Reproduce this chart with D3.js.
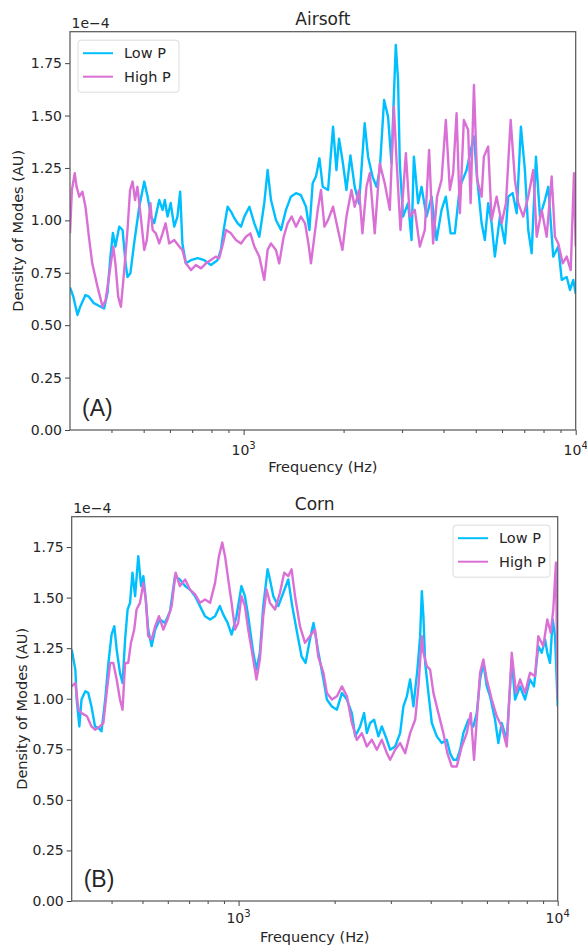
<!DOCTYPE html>
<meta charset="utf-8">
<script src="https://d3js.org/d3.v7.min.js"></script>
<style>
  body { margin: 0; background: #fff; }
  text { font-family: 'DejaVu Sans', sans-serif; fill: #262626; }
</style>
<body>
<div id="chart"></div>
<script>

// density of modes, in units of 1e-4 as [frequency Hz, value]
var airsoftLow = [[300,0.68],[307,0.636],[316,0.549],[322,0.588],[334,0.644],[342,0.636],[354,0.605],[371,0.588],
  [380,0.58],[389,0.653],[397,0.827],[404,0.94],[411,0.875],[422,0.97],[432,0.954],[441,0.795],[447,0.73],[456,0.748],
  [468,0.89],[485,1.065],[502,1.185],[514,1.113],[526,1.018],[538,0.987],[557,1.097],[570,1.05],[579,1.097],[590,1.018],
  [603,1.083],[618,0.97],[632,1.018],[644,1.137],[654,0.89],[670,0.795],[694,0.81],[727,0.82],[761,0.81],[797,0.787],
  [834,0.81],[854,0.859],[874,0.97],[895,1.065],[916,1.042],[938,1.01],[960,0.986],[982,0.97],[1005,1.018],[1041,1.065],
  [1077,0.986],[1115,0.922],[1154,1.083],[1181,1.24],[1209,1.097],[1251,1.002],[1296,0.954],[1341,1.05],[1388,1.113],
  [1438,1.13],[1488,1.12],[1541,1.065],[1578,0.954],[1614,1.177],[1652,1.21],[1692,1.296],[1731,1.16],[1796,1.145],
  [1859,1.447],[1903,1.24],[1938,1.39],[1992,1.27],[2040,1.145],[2097,1.31],[2160,1.16],[2226,1.08],[2315,1.463],
  [2370,1.304],[2443,1.21],[2513,1.16],[2570,1.24],[2648,1.574],[2722,1.495],[2788,1.272],[2834,1.59],[2872,1.837],
  [2918,1.67],[2953,1.272],[3021,1.018],[3128,1.082],[3204,0.906],[3256,1.304],[3353,1.082],[3434,1.16],[3555,1.018],
  [3681,1.113],[3810,0.906],[3945,1.05],[4064,1.113],[4200,0.938],[4325,0.938],[4479,1.16],[4693,1.24],[4858,1.352],
  [4938,1.40],[5032,1.225],[5208,0.986],[5326,0.906],[5451,1.082],[5582,0.986],[5709,0.827],[5913,1.018],[6120,0.89],
  [6263,1.113],[6458,1.13],[6642,1.034],[6840,1.447],[7031,1.24],[7196,0.954],[7369,0.843],[7592,1.304],[7805,1.018],
  [8078,1.097],[8267,1.16],[8558,0.827],[8862,0.875],[9076,0.716],[9396,0.73],[9612,0.668],[9833,0.716],[10000,0.65]];

var airsoftHigh = [[300,0.938],[304,1.145],[310,1.225],[314,1.16],[320,1.113],[327,1.137],[334,1.065],[342,0.922],
  [350,0.795],[363,0.684],[376,0.588],[384,0.62],[393,0.731],[405,0.875],[411,0.795],[419,0.636],[427,0.588],[437,0.763],
  [447,0.954],[455,1.145],[463,1.185],[471,1.097],[479,1.16],[490,1.018],[502,0.859],[511,0.906],[524,1.082],[532,0.954],
  [544,0.938],[557,0.89],[570,0.938],[582,0.986],[597,0.89],[618,0.906],[640,0.875],[654,0.859],[670,0.795],[694,0.763],
  [718,0.787],[744,0.771],[770,0.795],[797,0.811],[824,0.827],[844,0.819],[867,0.89],[885,0.954],[916,0.938],[948,0.906],
  [982,0.89],[1016,0.922],[1048,0.938],[1077,0.875],[1115,0.827],[1154,0.716],[1181,0.859],[1209,0.89],[1251,0.859],
  [1280,0.795],[1320,0.922],[1357,0.986],[1395,1.018],[1438,0.97],[1488,1.018],[1531,0.986],[1567,0.89],[1595,0.795],
  [1633,0.922],[1672,1.05],[1710,1.145],[1751,0.97],[1796,1.002],[1859,1.065],[1924,0.954],[1984,0.859],[2040,1.018],
  [2112,1.145],[2160,1.065],[2226,1.145],[2279,0.938],[2344,1.16],[2398,1.225],[2482,0.938],[2570,1.272],[2660,1.177],
  [2755,1.05],[2834,1.542],[2887,1.288],[2967,0.954],[3080,1.32],[3166,1.018],[3277,1.05],[3393,0.875],[3512,0.954],
  [3619,1.336],[3721,0.89],[3825,1.113],[3945,1.193],[4064,1.479],[4179,1.145],[4275,1.225],[4378,1.511],[4479,1.034],
  [4604,1.479],[4744,1.431],[4825,1.082],[4938,1.646],[5050,1.193],[5208,1.113],[5290,1.304],[5451,1.352],[5582,1.002],
  [5780,1.113],[5984,0.986],[6165,1.082],[6370,1.479],[6560,1.193],[6712,1.082],[6950,1.018],[7196,1.113],[7450,1.24],
  [7632,0.922],[7899,1.05],[8178,0.922],[8466,1.209],[8659,0.922],[8862,0.89],[9138,0.795],[9396,0.827],[9660,0.763],
  [9881,1.225],[10000,0.875]];

var cornLow = [[300,1.243],[308,1.144],[311,0.996],[317,0.863],[322,0.996],[331,1.037],[338,1.029],[346,0.962],
  [355,0.863],[364,0.855],[372,0.839],[382,0.996],[391,1.177],[400,1.317],[408,1.359],[415,1.243],[425,1.128],[433,1.078],
  [441,1.293],[449,1.441],[457,1.474],[465,1.623],[474,1.507],[485,1.705],[495,1.557],[503,1.606],[512,1.491],[521,1.342],
  [534,1.26],[548,1.342],[567,1.392],[588,1.375],[610,1.433],[632,1.606],[655,1.59],[680,1.557],[704,1.54],[731,1.507],
  [757,1.458],[785,1.408],[814,1.392],[844,1.408],[874,1.458],[895,1.417],[924,1.375],[951,1.317],[985,1.408],[1021,1.557],
  [1047,1.507],[1072,1.408],[1112,1.227],[1138,1.144],[1166,1.227],[1195,1.458],[1233,1.64],[1254,1.59],[1285,1.507],
  [1332,1.458],[1381,1.524],[1431,1.59],[1473,1.458],[1519,1.342],[1575,1.21],[1621,1.177],[1673,1.293],[1717,1.375],
  [1780,1.227],[1845,1.095],[1891,0.996],[1961,0.962],[2033,0.946],[2108,1.029],[2185,0.996],[2265,0.929],[2320,0.814],
  [2404,0.863],[2474,0.929],[2523,0.83],[2584,0.88],[2659,0.896],[2743,0.814],[2811,0.863],[2915,0.797],[2985,0.748],
  [3095,0.764],[3208,0.83],[3285,0.962],[3367,1.012],[3448,1.095],[3531,0.962],[3634,1.144],[3706,1.309],[3752,1.532],
  [3795,1.408],[3843,1.177],[3934,1.029],[4032,0.88],[4180,0.814],[4333,0.781],[4492,0.797],[4600,0.731],[4711,0.698],
  [4828,0.698],[4944,0.748],[5063,0.83],[5249,0.896],[5442,0.863],[5577,0.929],[5711,1.095],[5848,1.177],[5994,1.061],
  [6138,1.012],[6365,0.896],[6516,0.781],[6679,0.88],[6924,0.797],[7178,1.194],[7352,0.996],[7620,1.061],[7902,0.996],
  [8190,1.095],[8428,1.061],[8694,1.26],[8911,1.227],[9128,1.293],[9277,1.227],[9460,1.177],[9646,1.392],[9810,1.309],
  [10000,0.962]];

var cornHigh = [[300,1.061],[308,1.078],[315,0.946],[322,0.929],[335,0.913],[346,0.863],[355,0.847],[368,0.863],
  [377,0.88],[386,1.029],[396,1.177],[405,1.177],[415,1.095],[425,0.996],[433,0.946],[441,1.177],[451,1.177],[460,1.276],
  [471,1.342],[479,1.441],[491,1.474],[503,1.573],[512,1.491],[521,1.309],[534,1.293],[548,1.359],[563,1.408],[581,1.342],
  [599,1.392],[617,1.458],[635,1.623],[655,1.557],[680,1.59],[704,1.54],[731,1.516],[757,1.474],[785,1.491],[814,1.474],
  [844,1.573],[868,1.705],[889,1.772],[907,1.705],[928,1.59],[951,1.474],[975,1.342],[997,1.375],[1021,1.507],[1047,1.458],
  [1072,1.342],[1112,1.194],[1138,1.095],[1166,1.194],[1195,1.408],[1224,1.54],[1254,1.474],[1301,1.441],[1348,1.524],
  [1390,1.623],[1431,1.606],[1466,1.64],[1503,1.507],[1557,1.359],[1615,1.276],[1673,1.309],[1736,1.342],[1776,1.21],
  [1845,1.128],[1891,1.029],[1961,0.996],[2033,1.012],[2108,1.061],[2185,1.012],[2265,0.88],[2348,0.797],[2434,0.83],
  [2523,0.764],[2616,0.797],[2712,0.748],[2811,0.797],[2915,0.731],[2985,0.698],[3095,0.748],[3208,0.781],[3327,0.731],
  [3448,0.83],[3576,0.896],[3661,1.061],[3752,1.309],[3795,1.227],[3890,1.161],[3983,1.144],[4079,1.029],[4228,0.929],
  [4383,0.83],[4511,0.731],[4657,0.665],[4828,0.665],[5005,0.764],[5189,0.83],[5341,0.929],[5468,0.698],[5577,0.896],
  [5711,1.128],[5848,1.194],[5994,1.095],[6214,0.996],[6442,0.913],[6679,0.863],[6924,0.764],[7178,1.227],[7402,1.029],
  [7620,1.095],[7902,1.029],[8190,1.128],[8493,1.111],[8694,1.309],[9013,1.26],[9277,1.392],[9508,1.326],[9687,1.441],
  [9876,1.673],[10000,0.996]];

var seriesNames = ["Low P", "High P"]
var seriesColors = ["#00bfff", "#da70d6"]
var yTicks = [0, 0.25, 0.5, 0.75, 1.0, 1.25, 1.5, 1.75]
var xMajor = [1000, 10000]
var xMinor = [400, 500, 600, 700, 800, 900, 2000, 3000, 4000, 5000, 6000, 7000, 8000, 9000]

var width = 587
    height = 948

var svg = d3.select("#chart")
  .append("svg")
    .attr("width", width)
    .attr("height", height)

var panels = [
  { title: "Airsoft", tag: "(A)", low: airsoftLow, high: airsoftHigh,
    left: 70, right: 575.7, top: 31.7, bottom: 430, legend: "left", ylabX: 23, xtickDy: 25, xlabDy: 42 },
  { title: "Corn", tag: "(B)", low: cornLow, high: cornHigh,
    left: 71.7, right: 557.7, top: 516.7, bottom: 901, legend: "right", ylabX: 27, xtickDy: 22, xlabDy: 41 }
]

panels.forEach(function(p, i) {
  var x = d3.scaleLog().domain([300, 10000]).range([p.left, p.right])
  var y = d3.scaleLinear().domain([0, 1.9]).range([p.bottom, p.top])
  var g = svg.append("g")

  g.append("clipPath").attr("id", "clip" + i)
    .append("rect")
      .attr("x", p.left).attr("y", p.top)
      .attr("width", p.right - p.left).attr("height", p.bottom - p.top)

  var line = d3.line()
    .x(function(d) { return x(d[0]) })
    .y(function(d) { return y(d[1]) })

  ;[p.low, p.high].forEach(function(s, k) {
    g.append("path")
      .datum(s)
      .attr("clip-path", "url(#clip" + i + ")")
      .attr("fill", "none")
      .attr("stroke", seriesColors[k])
      .attr("stroke-width", 2.4)
      .attr("stroke-linejoin", "round")
      .attr("d", line)
  })

  // y axis
  var yAxis = g.append("g")
    .attr("transform", "translate(" + p.left + ",0)")
    .call(d3.axisLeft(y).tickValues(yTicks).tickFormat(d3.format(".2f")).tickSize(5).tickPadding(3))
  yAxis.select(".domain").remove()
  yAxis.selectAll("line").attr("stroke", "#444")
  yAxis.selectAll("text").style("font-family", "'DejaVu Sans'").style("font-size", "14px").attr("fill", "#262626")

  // x axis, major + minor ticks
  var xAxis = g.append("g")
    .attr("transform", "translate(0," + p.bottom + ")")
    .call(d3.axisBottom(x).tickValues(xMajor).tickFormat("").tickSize(5))
  xAxis.select(".domain").remove()
  xAxis.selectAll("line").attr("stroke", "#444")

  var xMinorAxis = g.append("g")
    .attr("transform", "translate(0," + p.bottom + ")")
    .call(d3.axisBottom(x).tickValues(xMinor).tickFormat("").tickSize(3))
  xMinorAxis.select(".domain").remove()
  xMinorAxis.selectAll("line").attr("stroke", "#444")

  xMajor.forEach(function(v) {
    var t = g.append("text")
      .attr("x", x(v))
      .attr("y", p.bottom + p.xtickDy)
      .attr("text-anchor", "middle")
      .style("font-size", "14px")
    t.append("tspan").text("10")
    t.append("tspan").attr("dy", -6).style("font-size", "10px").text(Math.round(Math.log10(v)))
  })

  // frame
  g.append("rect")
    .attr("x", p.left).attr("y", p.top)
    .attr("width", p.right - p.left).attr("height", p.bottom - p.top)
    .attr("fill", "none")
    .attr("stroke", "#555")
    .attr("stroke-width", 1.2)

  g.append("text")
    .attr("x", (p.left + p.right) / 2)
    .attr("y", p.top - 7)
    .attr("text-anchor", "middle")
    .style("font-size", "17px")
    .text(p.title)

  g.append("text")
    .attr("x", p.left + 1.5)
    .attr("y", p.top - 3.5)
    .style("font-size", "14px")
    .text("1e\u22124")

  g.append("text")
    .attr("x", (p.left + p.right) / 2)
    .attr("y", p.bottom + p.xlabDy)
    .attr("text-anchor", "middle")
    .style("font-size", "14.5px")
    .text("Frequency (Hz)")

  g.append("text")
    .attr("transform", "translate(" + p.ylabX + "," + ((p.top + p.bottom) / 2) + ") rotate(-90)")
    .attr("text-anchor", "middle")
    .style("font-size", "14.5px")
    .text("Density of Modes (AU)")

  g.append("text")
    .attr("x", p.left + 12)
    .attr("y", p.bottom - 14)
    .style("font-family", "'Liberation Sans'")
    .style("font-size", "23px")
    .attr("fill", "#222")
    .text(p.tag)

  // legend
  var lw = p.legend == "left" ? 101 : 97
  var lx = p.legend == "left" ? p.left + 8 : p.right - lw - 7.7
  var ly = p.top + 8.5
  var leg = g.append("g").attr("transform", "translate(" + lx + "," + ly + ")")
  leg.append("rect")
    .attr("width", lw).attr("height", 52)
    .attr("rx", 3)
    .attr("fill", "white").attr("fill-opacity", 0.85)
    .attr("stroke", "#dcdcdc")
  seriesNames.forEach(function(name, k) {
    leg.append("line")
      .attr("x1", 5).attr("x2", 35)
      .attr("y1", 13 + k * 23.5).attr("y2", 13 + k * 23.5)
      .attr("stroke", seriesColors[k]).attr("stroke-width", 2)
    leg.append("text")
      .attr("x", 46)
      .attr("y", 18 + k * 23.5)
      .style("font-size", "14.5px")
      .text(name)
  })
})

</script>
</body>
